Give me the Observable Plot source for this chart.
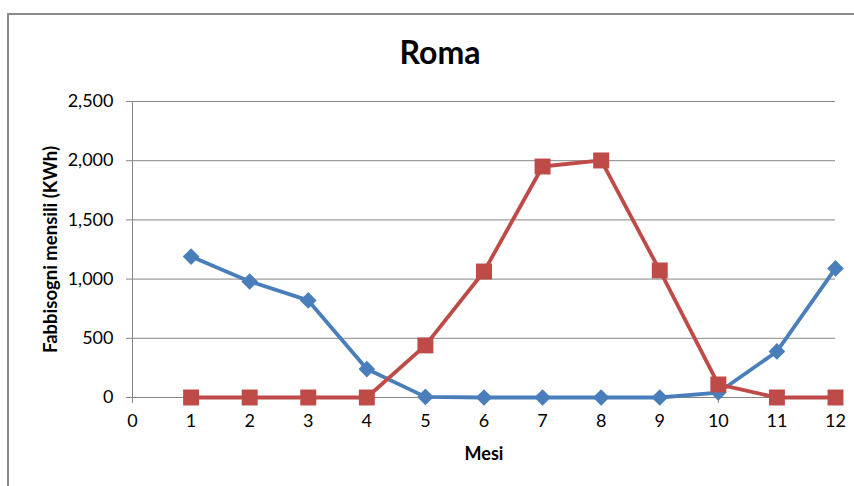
<!DOCTYPE html>
<html>
<head>
<meta charset="utf-8">
<script src="https://cdn.jsdelivr.net/npm/d3@7"></script>
<script src="https://cdn.jsdelivr.net/npm/@observablehq/plot@0.6"></script>
<style>
  html, body { margin: 0; padding: 0; background: #fff; overflow: hidden; }
  #wrap { position: relative; width: 854px; height: 486px; font-family: Lato, "Open Sans", sans-serif; }
  #frame { position: absolute; left: 7px; top: 13px; right: -10px; bottom: -10px; border: 2px solid #8a8a8a; box-sizing: border-box; pointer-events: none; }
  #title { position: absolute; left: 0; width: 880px; top: 32px; text-align: center; font-size: 32px; font-weight: bold; color: #000; }
  #chart { position: absolute; left: 0; top: 0; }
</style>
</head>
<body>
<div id="wrap">
  <div id="frame"></div>
  <div id="title"></div>
  <div id="chart"></div>
</div>
<script>
const months = [1, 2, 3, 4, 5, 6, 7, 8, 9, 10, 11, 12];
const heating = [1190, 980, 820, 240, 5, 0, 0, 0, 0, 42, 389, 1090];
const cooling = [0, 0, 0, 0, 440, 1064, 1951, 2002, 1073, 110, 0, 0];
const yTicks = [0, 500, 1000, 1500, 2000, 2500];
const xTicks = [0, 1, 2, 3, 4, 5, 6, 7, 8, 9, 10, 11, 12];
const titleText = "Roma";
const xLabel = "Mesi";
const yLabel = "Fabbisogni mensili (KWh)";

const blue = "#4a7ebb";
const red = "#be4b48";

const heatData = months.map((m, i) => ({m, v: heating[i]}));
const coolData = months.map((m, i) => ({m, v: cooling[i]}));

const chart = Plot.plot({
  width: 854,
  height: 486,
  marginLeft: 132,
  marginRight: 19,
  marginTop: 101,
  marginBottom: 89,
  style: {fontFamily: "Lato, 'Open Sans', sans-serif", fontSize: "18px", color: "#000", background: "transparent"},
  x: {domain: [0, 12], ticks: xTicks, label: null},
  y: {domain: [0, 2500], ticks: yTicks, label: null},
  marks: [
    Plot.gridY(yTicks, {stroke: "#868686", strokeOpacity: 1, strokeWidth: 1}),
    Plot.ruleX([0], {stroke: "#868686", strokeWidth: 1}),
    Plot.axisY(yTicks, {tickFormat: d3.format(","), tickSize: 6, tickPadding: 13, stroke: "#868686", fontSize: 18}),
    Plot.axisX(xTicks, {tickFormat: d => String(d), tickSize: 6, tickPadding: 11, stroke: "#868686", fontSize: 18}),
    Plot.line(heatData, {x: "m", y: "v", stroke: blue, strokeWidth: 3.8}),
    Plot.dot(heatData, {x: "m", y: "v", symbol: "diamond2", r: 7.5, fill: blue, stroke: null}),
    Plot.line(coolData, {x: "m", y: "v", stroke: red, strokeWidth: 3.8}),
    Plot.dot(coolData, {x: "m", y: "v", symbol: "square", r: 9, fill: red, stroke: null}),
    Plot.text([xLabel], {frameAnchor: "bottom", dy: 62, text: d => d, fontWeight: "bold", fontSize: 18}),
    Plot.text([yLabel], {frameAnchor: "left", textAnchor: "middle", dx: -81, rotate: -90, text: d => d, fontWeight: "bold", fontSize: 18.5})
  ]
});
document.getElementById("chart").appendChild(chart);
document.getElementById("title").textContent = titleText;
</script>
</body>
</html>
